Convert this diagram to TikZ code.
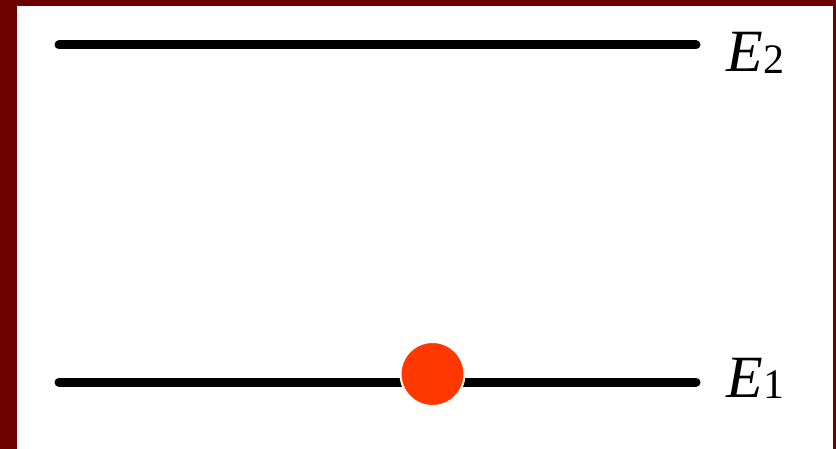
\documentclass[tikz,border=0pt]{standalone}
\usepackage{fontspec}
\setmainfont{Liberation Serif}
\definecolor{frame}{HTML}{6E0000}
\definecolor{dot}{HTML}{FF3800}
\tikzset{
  level/.style={line width=9pt, line cap=round, black},
  elabel/.style={anchor=base west, inner sep=0pt, font=\fontsize{60}{64}\selectfont},
  particle/.style={circle, fill=dot, draw=white, line width=2pt, minimum size=64pt, inner sep=0pt}
}
\newcommand{\lvlname}[1]{\textit{E}\kern1pt\raisebox{-0.02em}{\fontsize{42}{46}\selectfont #1}}
\begin{document}
\begin{tikzpicture}[x=1pt,y=-1pt]
\useasboundingbox (0,0) rectangle (836,449);
\fill[frame] (0,0) rectangle (836,449);
\fill[white] (17,6) rectangle (833,449);
\coordinate (a1) at (59,45);
\coordinate (b1) at (696,45);
\coordinate (a2) at (59,382);
\coordinate (b2) at (696,382);
\draw[level] (a1) -- (b1);
\draw[level] (a2) -- (b2);
\node[particle] (p) at (432.5,374) {};
\node[elabel] (e2) at (726,72) {\lvlname{2}};
\node[elabel] (e1) at (726,397) {\lvlname{1}};
\end{tikzpicture}
\end{document}
